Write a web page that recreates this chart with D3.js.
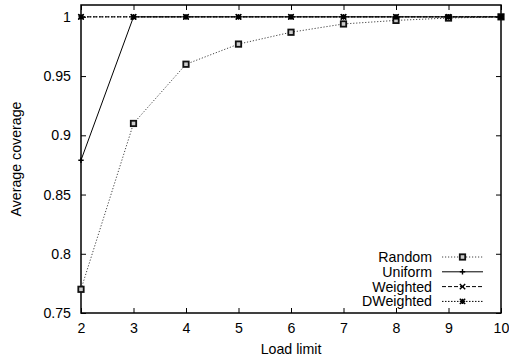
<!DOCTYPE html>
<html>
<head>
<meta charset="utf-8">
<script src="https://cdn.jsdelivr.net/npm/d3@7"></script>
<style>
  body { margin: 0; background: #fff; }
  text { font-family: "Liberation Sans", Arial, sans-serif; fill: #000; }
</style>
</head>
<body>
<div class="chart"></div>
<script>
// load limit values on the x axis
var loadLimits = [2, 3, 4, 5, 6, 7, 8, 9, 10];
var randomCov = [0.77, 0.91, 0.96, 0.977, 0.987, 0.994, 0.997, 0.999, 1.0];
var uniformCov = [0.879, 1, 1, 1, 1, 1, 1, 1, 1];
var weightedCov = [1, 1, 1, 1, 1, 1, 1, 1, 1];
var dweightedCov = [1, 1, 1, 1, 1, 1, 1, 1, 1];
var yTicks = [0.75, 0.8, 0.85, 0.9, 0.95, 1];
var yTickLabels = ["0.75", "0.8", "0.85", "0.9", "0.95", "1"];
var seriesNames = ["Random", "Uniform", "Weighted", "DWeighted"];

var w = 509, h = 360;
var margin = {top: 5, right: 8, bottom: 47, left: 81};

var svg = d3.select("div.chart").append("svg")
    .attr("width", w).attr("height", h);

var x = d3.scaleLinear().domain([2, 10]).range([margin.left, w - margin.right]);
var y = d3.scaleLinear().domain([0.75, 1.01]).range([h - margin.bottom, margin.top]);

var fontSize = "14.2px";
var tickLen = 5;

//ticks on all four sides, pointing inward
var axisLeft = d3.axisLeft(y).tickValues(yTicks).tickSizeInner(-tickLen).tickSizeOuter(0)
    .tickPadding(10).tickFormat(function(d, i){ return yTickLabels[i]; });
var axisRight = d3.axisRight(y).tickValues(yTicks).tickSizeInner(-tickLen).tickSizeOuter(0).tickFormat("");
var axisBottom = d3.axisBottom(x).tickValues(loadLimits).tickSizeInner(-tickLen).tickSizeOuter(0)
    .tickPadding(10).tickFormat(d3.format("d"));
var axisTop = d3.axisTop(x).tickValues(loadLimits).tickSizeInner(-tickLen).tickSizeOuter(0).tickFormat("");

function styleAxis(g){
    g.select(".domain").remove();
    g.selectAll(".tick line").attr("stroke", "#000").attr("stroke-width", 1);
    g.selectAll(".tick text").style("font-size", fontSize).attr("fill", "#000");
}

svg.append("g").attr("transform", `translate(${margin.left},0)`).call(axisLeft).call(styleAxis);
svg.append("g").attr("transform", `translate(${w - margin.right},0)`).call(axisRight).call(styleAxis);
svg.append("g").attr("transform", `translate(0,${h - margin.bottom})`).call(axisBottom).call(styleAxis);
svg.append("g").attr("transform", `translate(0,${margin.top})`).call(axisTop).call(styleAxis);

//plot border
svg.append("rect")
    .attr("x", margin.left).attr("y", margin.top)
    .attr("width", w - margin.left - margin.right)
    .attr("height", h - margin.top - margin.bottom)
    .attr("fill", "none").attr("stroke", "#000").attr("stroke-width", 1.5);

//axis titles
svg.append("text")
    .attr("x", (margin.left + w - margin.right) / 2).attr("y", 354)
    .attr("text-anchor", "middle").style("font-size", fontSize)
    .text("Load limit");
svg.append("text")
    .attr("transform", `translate(21,${(margin.top + h - margin.bottom) / 2}) rotate(-90)`)
    .attr("text-anchor", "middle").style("font-size", fontSize)
    .text("Average coverage");

var series = [
    {name: seriesNames[0], values: randomCov, color: "#444", dash: "1.2,1.8", marker: "box"},
    {name: seriesNames[1], values: uniformCov, color: "#000", dash: null, marker: "plus"},
    {name: seriesNames[2], values: weightedCov, color: "#000", dash: "4,2", marker: "cross"},
    {name: seriesNames[3], values: dweightedCov, color: "#000", dash: "1.5,1.5", marker: "star"}
];

var line = d3.line().x(function(d){ return x(d[0]); }).y(function(d){ return y(d[1]); });

function drawMarker(g, type, cx, cy){
    var s = 2.7;
    if(type === "box"){
        g.append("rect").attr("x", cx - s).attr("y", cy - s).attr("width", 2 * s).attr("height", 2 * s)
            .attr("fill", "#ccc").attr("stroke", "#111").attr("stroke-width", 1.8);
    } else {
        var p = "";
        if(type === "plus" || type === "star") p += `M${cx - s},${cy}H${cx + s}M${cx},${cy - s}V${cy + s}`;
        if(type === "cross" || type === "star") p += `M${cx - s},${cy - s}L${cx + s},${cy + s}M${cx - s},${cy + s}L${cx + s},${cy - s}`;
        g.append("path").attr("d", p).attr("stroke", "#000").attr("stroke-width", 1.4).attr("fill", "none");
    }
}

series.forEach(function(s){
    var pts = loadLimits.map(function(l, i){ return [l, s.values[i]]; });
    var g = svg.append("g");
    g.append("path").attr("d", line(pts))
        .attr("fill", "none").attr("stroke", s.color).attr("stroke-width", 1)
        .attr("stroke-dasharray", s.dash);
    pts.forEach(function(p){ drawMarker(g, s.marker, x(p[0]), y(p[1])); });
});

//legend
var legendY0 = 257, legendDy = 14.8;
series.forEach(function(s, i){
    var ly = legendY0 + i * legendDy;
    var g = svg.append("g");
    g.append("text").attr("x", 432).attr("y", ly + 5)
        .attr("text-anchor", "end").style("font-size", fontSize).text(s.name);
    g.append("line").attr("x1", 442).attr("x2", 483).attr("y1", ly).attr("y2", ly)
        .attr("stroke", s.color).attr("stroke-width", 1).attr("stroke-dasharray", s.dash);
    drawMarker(g, s.marker, 462.5, ly);
});
</script>
</body>
</html>
